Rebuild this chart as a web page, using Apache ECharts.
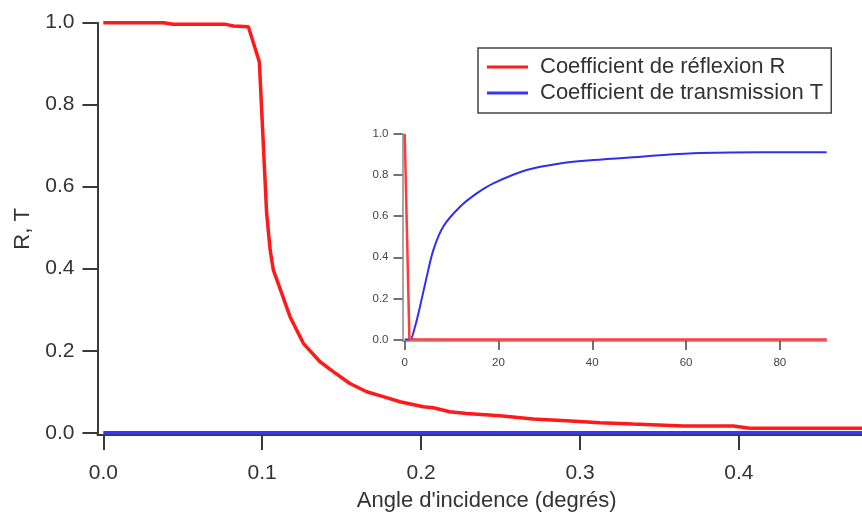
<!DOCTYPE html>
<html>
<head>
<meta charset="utf-8">
<script src="https://cdn.jsdelivr.net/npm/echarts@6/dist/echarts.min.js"></script>
<style>
html,body{margin:0;padding:0;background:#fff;}
#chart{width:862px;height:515px;}
</style>
</head>
<body>
<div id="chart"></div>
<script>
// ---- Data ----
const seriesNames = ['Coefficient de réflexion R', 'Coefficient de transmission T'];

// Main chart: angle (degrees) and reflection coefficient R
const mainAngleR = [0, 0.02, 0.038, 0.044, 0.06, 0.077, 0.082, 0.0913, 0.0982, 0.1028, 0.105, 0.107, 0.1123, 0.1175, 0.1259, 0.1364, 0.1447, 0.1552, 0.1658, 0.1762, 0.1867, 0.2014, 0.2077, 0.218, 0.2287, 0.2496, 0.2706, 0.2916, 0.3126, 0.3335, 0.365, 0.3965, 0.407, 0.4775];
const mainR      = [1.0, 1.0, 1.0, 0.996, 0.996, 0.996, 0.992, 0.990, 0.905, 0.535, 0.446, 0.397, 0.340, 0.283, 0.218, 0.173, 0.149, 0.120, 0.100, 0.088, 0.0756, 0.0634, 0.061, 0.051, 0.047, 0.0415, 0.0334, 0.029, 0.0244, 0.021, 0.0163, 0.0163, 0.0107, 0.0107];
// Main chart: transmission coefficient T
const mainAngleT = [0, 0.1, 0.2, 0.3, 0.4, 0.4775];
const mainT      = [0, 0, 0, 0, 0, 0];

// Inset: angle (degrees) 0..90
const insetAngleR = [0, 1, 2, 10, 30, 50, 70, 90];
const insetR      = [1.0, 0.003, 0.001, 0, 0, 0, 0, 0];
const insetAngleT = [0, 1.13, 2.2, 3.26, 4.7, 6.1, 8.2, 11.8, 15.35, 18.9, 26, 33.1, 40.2, 47.3, 61.5, 75.8, 90];
const insetT      = [0, 0, 0.062, 0.16, 0.306, 0.435, 0.549, 0.646, 0.711, 0.76, 0.825, 0.857, 0.873, 0.885, 0.906, 0.911, 0.911];

// Tick labels
const mainXTicks = [0, 0.1, 0.2, 0.3, 0.4];
const mainYTicks = [0, 0.2, 0.4, 0.6, 0.8, 1.0];
const insetXTicks = [0, 20, 40, 60, 80];
const insetYTicks = [0, 0.2, 0.4, 0.6, 0.8, 1.0];

const xName = "Angle d'incidence (degrés)";
const yName = 'R, T';

const pairs = (xs, ys) => xs.map((x, i) => [x, ys[i]]);

const FONT = 'Liberation Sans, Arial, sans-serif';
const RED = '#ff1a1a';
const BLUE = '#3535ff';

const chart = echarts.init(document.getElementById('chart'), null, {renderer: 'canvas'});

const mainAxisLine = {show: true, onZero: false, lineStyle: {color: '#3a3a3a', width: 2}};
const mainTick = {show: true, length: 15, lineStyle: {color: '#3a3a3a', width: 2}};
const insetAxisLine = {show: true, onZero: false, lineStyle: {color: '#8a8a8a', width: 1.5}};
const insetTick = {show: true, length: 9, lineStyle: {color: '#444', width: 1.5}};

const option = {
  backgroundColor: '#ffffff',
  animation: false,
  grid: [
    {left: 97.5, top: 22.7, right: 0, bottom: 80, containLabel: false, outerBoundsMode: 'none'},
    {left: 402.5, top: 134, right: 35.3, bottom: 174, containLabel: false, outerBoundsMode: 'none'}
  ],
  legend: {
    data: seriesNames,
    orient: 'vertical',
    left: 478,
    top: 48,
    padding: [6, 8, 7, 9],
    itemWidth: 41,
    itemHeight: 3,
    itemGap: 0,
    icon: 'rect',
    borderColor: '#444',
    borderWidth: 1.5,
    backgroundColor: '#fff',
    textStyle: {fontSize: 22, color: '#333', fontFamily: FONT, lineHeight: 26, padding: [0, 0, 0, 7]}
  },
  xAxis: [
    {
      gridIndex: 0, type: 'value',
      min: -0.00365, max: 0.47747,
      splitLine: {show: false},
      axisLine: mainAxisLine,
      axisTick: Object.assign({customValues: mainXTicks}, mainTick),
      axisLabel: {customValues: mainXTicks, fontSize: 21, color: '#333', fontFamily: FONT, margin: 28,
        formatter: v => v.toFixed(1)},
      name: xName, nameLocation: 'middle', nameGap: 55,
      nameTextStyle: {fontSize: 22, color: '#333', fontFamily: FONT, padding: [0, 0, 0, 14]}
    },
    {
      gridIndex: 1, type: 'value',
      min: -0.47, max: 90,
      splitLine: {show: false},
      axisLine: insetAxisLine,
      axisTick: Object.assign({customValues: insetXTicks}, insetTick),
      axisLabel: {customValues: insetXTicks, fontSize: 11.5, color: '#444', fontFamily: FONT, margin: 16,
        formatter: v => String(v)}
    }
  ],
  yAxis: [
    {
      gridIndex: 0, type: 'value',
      min: -0.0056, max: 1.0,
      splitLine: {show: false},
      axisLine: mainAxisLine,
      axisTick: Object.assign({customValues: mainYTicks}, mainTick),
      axisLabel: {customValues: mainYTicks, fontSize: 21, color: '#333', fontFamily: FONT, margin: 23,
        formatter: v => v.toFixed(1)},
      name: yName, nameLocation: 'middle', nameGap: 60, nameRotate: 90,
      nameTextStyle: {fontSize: 22, color: '#333', fontFamily: FONT}
    },
    {
      gridIndex: 1, type: 'value',
      min: -0.0073, max: 1.0,
      splitLine: {show: false},
      axisLine: insetAxisLine,
      axisTick: Object.assign({customValues: insetYTicks}, insetTick),
      axisLabel: {customValues: insetYTicks, fontSize: 11.5, color: '#444', fontFamily: FONT, margin: 14,
        formatter: v => v.toFixed(1)}
    }
  ],
  series: [
    {
      name: seriesNames[1], type: 'line', xAxisIndex: 0, yAxisIndex: 0,
      data: pairs(mainAngleT, mainT), showSymbol: false, symbol: 'none', clip: false,
      lineStyle: {color: BLUE, width: 3.5}, itemStyle: {color: BLUE}, z: 2
    },
    {
      name: seriesNames[0], type: 'line', xAxisIndex: 0, yAxisIndex: 0,
      data: pairs(mainAngleR, mainR), showSymbol: false, symbol: 'none', clip: false,
      lineStyle: {color: RED, width: 3.5}, itemStyle: {color: RED}, z: 3
    },
    {
      name: 'T (encart)', type: 'line', xAxisIndex: 1, yAxisIndex: 1,
      data: pairs(insetAngleT, insetT), showSymbol: false, symbol: 'none', clip: false,
      smooth: 0.3,
      lineStyle: {color: '#2f2ff0', width: 2}, z: 4
    },
    {
      name: 'R (encart)', type: 'line', xAxisIndex: 1, yAxisIndex: 1,
      data: pairs(insetAngleR, insetR), showSymbol: false, symbol: 'none', clip: false,
      lineStyle: {color: '#ff3c3c', width: 2.5}, z: 5
    }
  ]
};
chart.setOption(option);
</script>
</body>
</html>
